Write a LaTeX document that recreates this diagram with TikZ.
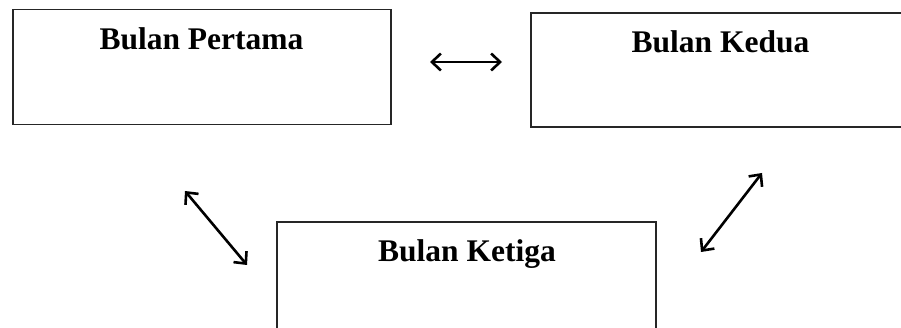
\documentclass[tikz,border=0pt]{standalone}
\usepackage{fontspec}
\setmainfont{Liberation Serif}
\usetikzlibrary{arrows.meta}
\begin{document}
\begin{tikzpicture}[x=1pt,y=-1pt,
  box/.style={draw=black!85,line width=1.1pt,rectangle,inner sep=0pt},
  lbl/.style={font=\fontsize{31.5}{36}\selectfont\bfseries,anchor=base,inner sep=0pt},
  dbl/.style={line width=2.6pt,{Straight Barb[length=9pt,width=17pt]}-{Straight Barb[length=9pt,width=17pt]}}
]
\useasboundingbox (0,0) rectangle (901,328);
\fill[white] (0,0) rectangle (901,328);
\begin{scope}
\clip (0,0) rectangle (901,328);
\node[box,minimum width=378pt,minimum height=114.5pt] (b1) at (202,67) {};
\node[box,minimum width=380pt,minimum height=114pt] (b2) at (721,70) {};
\node[box,minimum width=379pt,minimum height=140pt] (b3) at (466.5,292) {};
\end{scope}
\node[lbl] (t1) at (201.5,50) {Bulan Pertama};
\node[lbl] (t2) at (720.5,53) {Bulan Kedua};
\node[lbl] (t3) at (467,262) {Bulan Ketiga};
\coordinate (h1) at (430,62);
\coordinate (h2) at (502,62);
\coordinate (d1a) at (185,191);
\coordinate (d1b) at (247,265);
\coordinate (d2a) at (762,173);
\coordinate (d2b) at (701,252);
\draw[dbl] (h1) -- (h2);
\draw[dbl] (d1a) -- (d1b);
\draw[dbl] (d2a) -- (d2b);
\end{tikzpicture}
\end{document}
